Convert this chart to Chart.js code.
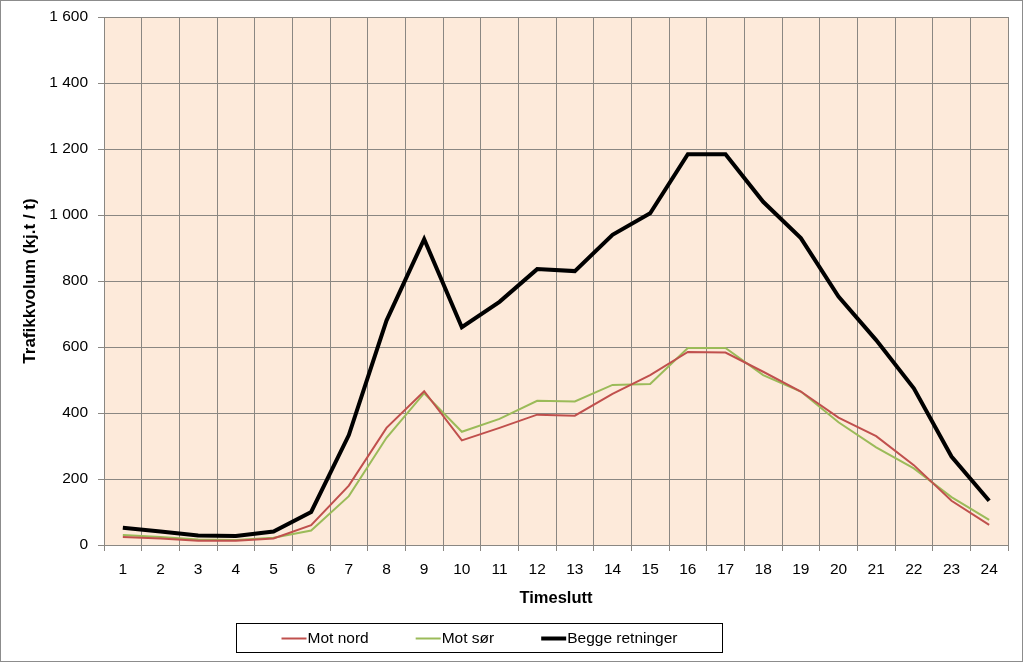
<!DOCTYPE html>
<html>
<head>
<meta charset="utf-8">
<script src="https://cdn.jsdelivr.net/npm/chart.js@4.4.1/dist/chart.umd.min.js"></script>
<style>
  html, body { margin: 0; padding: 0; background: #fff; }
  #wrap { width: 1024px; height: 663px; position: relative; }
</style>
</head>
<body>
<div id="wrap"><canvas id="c" width="1024" height="663"></canvas></div>
<script>
const categories = ['1','2','3','4','5','6','7','8','9','10','11','12','13','14','15','16','17','18','19','20','21','22','23','24'];
const motNord = [24, 20, 13, 13, 20, 60, 180, 355, 466, 317, 355, 395, 392, 458, 515, 585, 583, 525, 465, 386, 330, 242, 134, 61];
const motSor  = [30, 24, 17, 15, 22, 44, 148, 325, 460, 343, 382, 437, 435, 485, 488, 597, 597, 515, 465, 372, 296, 232, 145, 76];
const begge   = [52, 41, 29, 27, 41, 100, 333, 680, 927, 660, 737, 836, 830, 940, 1005, 1184, 1184, 1040, 930, 753, 621, 475, 268, 134];
const yTicks  = [0, 200, 400, 600, 800, 1000, 1200, 1400, 1600];
const seriesNames = ['Mot nord', 'Mot sør', 'Begge retninger'];

const FONT = 'Liberation Sans, Arial, sans-serif';

const fmt = v => {
  const s = String(v);
  return s.length > 3 ? s.slice(0, s.length - 3) + ' ' + s.slice(-3) : s;
};

const bgPlugin = {
  id: 'bg',
  beforeDraw(chart) {
    const {ctx, chartArea: a} = chart;
    ctx.save();
    ctx.fillStyle = '#ffffff';
    ctx.fillRect(0, 0, chart.width, chart.height);
    ctx.fillStyle = '#FDEADA';
    ctx.fillRect(a.left, a.top, a.right - a.left, a.bottom - a.top);
    ctx.restore();
  },
  afterDraw(chart) {
    const {ctx} = chart;
    ctx.save();
    ctx.strokeStyle = '#8c8c8c';
    ctx.lineWidth = 1;
    ctx.strokeRect(0.5, 0.5, 1022, 661);
    const bx = 236, by = 623, bw = 486, bh = 29;
    ctx.strokeStyle = '#000';
    ctx.strokeRect(bx + 0.5, by + 0.5, bw, bh);
    ctx.font = '15.5px ' + FONT;
    ctx.textBaseline = 'middle';
    const lineLen = 25, gap = 48;
    const ds = chart.data.datasets;
    const widths = ds.map(d => ctx.measureText(d.label).width);
    const total = ds.length * lineLen + widths.reduce((a, b) => a + b, 0) + gap * (ds.length - 1);
    let x = bx + bw / 2 - total / 2;
    const cy = by + bh / 2 + 1;
    ds.forEach((d, i) => {
      ctx.strokeStyle = d.borderColor;
      ctx.lineWidth = d.borderWidth;
      ctx.beginPath();
      ctx.moveTo(x, cy);
      ctx.lineTo(x + lineLen, cy);
      ctx.stroke();
      ctx.fillStyle = '#000';
      ctx.fillText(d.label, x + lineLen + 1, cy);
      x += lineLen + widths[i] + gap;
    });
    ctx.restore();
  }
};

new Chart(document.getElementById('c'), {
  type: 'line',
  data: {
    labels: categories,
    datasets: [
      { label: seriesNames[0], data: motNord, borderColor: '#C0504D', backgroundColor: '#C0504D', borderWidth: 2, pointRadius: 0, tension: 0 },
      { label: seriesNames[1], data: motSor, borderColor: '#9BBB59', backgroundColor: '#9BBB59', borderWidth: 2, pointRadius: 0, tension: 0 },
      { label: seriesNames[2], data: begge, borderColor: '#000000', backgroundColor: '#000000', borderWidth: 4, pointRadius: 0, tension: 0 }
    ]
  },
  options: {
    responsive: false,
    animation: false,
    devicePixelRatio: 1,
    layout: { padding: { left: 20, right: 16, top: 17, bottom: 48 } },
    plugins: {
      legend: { display: false },
      tooltip: { enabled: false }
    },
    scales: {
      x: {
        offset: true,
        grid: { offset: true, color: '#8a8782', lineWidth: 1, tickLength: 6, drawTicks: true },
        border: { color: '#8a8782', width: 1 },
        ticks: { color: '#000', font: { family: FONT, size: 15.5 }, padding: 9, maxRotation: 0, autoSkip: false },
        title: { display: true, text: 'Timeslutt', color: '#000', font: { family: FONT, size: 16.5, weight: 'bold' }, padding: { top: 0, bottom: 7 } },
        afterFit(scale) { scale.height = 70; scale.paddingLeft = 0; scale.paddingRight = 0; }
      },
      y: {
        min: 0, max: 1600,
        afterBuildTicks(scale) { scale.ticks = yTicks.map(v => ({ value: v })); },
        grid: { color: '#8a8782', lineWidth: 1, tickLength: 6 },
        border: { color: '#8a8782', width: 1 },
        ticks: { color: '#000', font: { family: FONT, size: 15.5 }, padding: 10, callback: v => fmt(v) },
        title: { display: true, text: 'Trafikkvolum (kj.t / t)', color: '#000', font: { family: FONT, size: 17, weight: 'bold' }, padding: { top: 0, bottom: 0 } },
        afterFit(scale) { scale.width = 104 - 20; scale.paddingTop = 0; scale.paddingBottom = 0; }
      }
    }
  },
  plugins: [bgPlugin]
});
</script>
</body>
</html>
